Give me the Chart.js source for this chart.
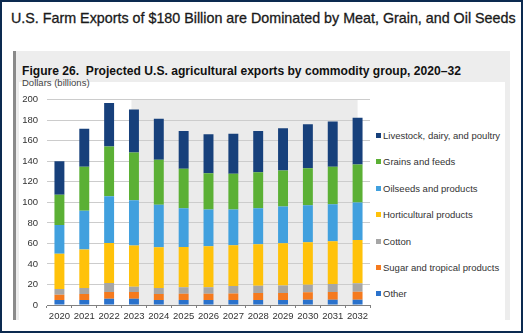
<!DOCTYPE html>
<html>
<head>
<meta charset="utf-8">
<script src="https://cdn.jsdelivr.net/npm/chart.js@4.4.1/dist/chart.umd.min.js"></script>
<style>
  body { margin: 0; width: 523px; height: 333px; position: relative; background: #fff; font-family: 'Liberation Sans', Arial, sans-serif; overflow: hidden; }
  #frame { position: absolute; left: 0; top: 0; width: 523px; height: 333px; box-sizing: border-box; border: 2px solid #0c2a50; }
  #title { position: absolute; left: 11px; top: 10px; font-size: 14.3px; color: #1a1a1a; white-space: nowrap; -webkit-text-stroke: 0.3px #1a1a1a; }
  #panel { position: absolute; left: 13px; top: 51px; width: 494px; height: 269px; background: #ededed; border-left: 3px solid #8a8a8a; }
  #fig-title { position: absolute; left: 22px; top: 64px; font-size: 12.1px; font-weight: bold; color: #111; white-space: nowrap; }
  #plot-bg { position: absolute; left: 19px; top: 82px; width: 486px; height: 238px; background: #fff; }
  #units { position: absolute; left: 22px; top: 77px; font-size: 9.5px; color: #444; }
  #chart-box { position: absolute; left: 19px; top: 85px; width: 356px; height: 239px; }
  #legend { position: absolute; left: 376px; top: 130px; }
  .legend-item { height: 26.4px; font-size: 9.5px; color: #333; white-space: nowrap; position: relative; }
  .legend-item span { display: inline-block; width: 5px; height: 5px; margin-right: 2px; vertical-align: 1px; }
</style>
</head>
<body>
<div id="frame"></div>
<div id="title">U.S. Farm Exports of $180 Billion are Dominated by Meat, Grain, and Oil Seeds</div>
<div id="panel"></div>
<div id="plot-bg"></div>
<div id="fig-title">Figure 26.&nbsp; Projected U.S. agricultural exports by commodity group, 2020–32</div>
<div id="units">Dollars (billions)</div>
<div id="chart-box"><canvas id="exportsChart" width="356" height="239"></canvas></div>
<div id="legend"></div>
<script>
// years on the x axis
const years = ['2020', '2021', '2022', '2023', '2024', '2025', '2026', '2027', '2028', '2029', '2030', '2031', '2032'];

// values in billion dollars, bottom of the stack first
const other = [4.9, 4.9, 6.1, 6.1, 4.9, 4.9, 4.9, 4.9, 4.9, 4.9, 5.2, 5.2, 5.2];
const sugar = [5.1, 5.8, 6.6, 6.6, 5.8, 6.1, 6.1, 6.3, 6.8, 6.8, 7.1, 7.5, 7.8];
const cotton = [5.6, 5.9, 8.8, 5.2, 5.9, 6.2, 6.2, 7.3, 7.1, 7.4, 7.5, 7.8, 8.1];
const horticultural = [34.4, 37.4, 39.0, 40.0, 39.6, 39.4, 40.0, 39.6, 40.3, 41.0, 41.3, 41.5, 42.3];
const oilseeds = [28.0, 37.7, 45.5, 44.1, 41.4, 37.6, 35.8, 34.9, 35.1, 35.8, 36.1, 36.1, 36.4];
const grains = [29.3, 42.9, 48.4, 46.6, 43.8, 38.5, 35.4, 34.8, 35.2, 35.1, 36.1, 36.5, 37.1];
const livestock = [32.8, 37.1, 42.3, 41.9, 40.0, 36.7, 38.0, 39.0, 40.0, 41.3, 42.9, 44.2, 45.5];

const seriesLabels = ['Other', 'Sugar and tropical products', 'Cotton', 'Horticultural products', 'Oilseeds and products', 'Grains and feeds', 'Livestock, dairy, and poultry'];
const seriesData = [other, sugar, cotton, horticultural, oilseeds, grains, livestock];
const seriesColors = ['#2a72cc', '#f57a1e', '#a6a6a6', '#ffc20a', '#41a0de', '#5bb035', '#17407b'];

const yTicks = [0, 20, 40, 60, 80, 100, 120, 140, 160, 180, 200];

// grey band behind the projection years
const projectionShade = {
  id: 'projectionShade',
  beforeDraw(chart) {
    const ctx = chart.ctx;
    const x = chart.scales.x;
    const area = chart.chartArea;
    const left = x.getPixelForValue(2.9);
    const right = x.getPixelForValue(12);
    ctx.save();
    ctx.fillStyle = '#ebebeb';
    ctx.fillRect(left, area.top, right - left, area.bottom - area.top);
    ctx.restore();
  },
};

const datasets = seriesLabels.map((label, i) => ({
  label: label,
  data: seriesData[i],
  backgroundColor: seriesColors[i],
  borderWidth: 0,
  barPercentage: 0.4,
  categoryPercentage: 1,
}));

const ctx = document.getElementById('exportsChart').getContext('2d');
window.exportsChart = new Chart(ctx, {
  type: 'bar',
  data: {
    labels: years,
    datasets: datasets,
  },
  options: {
    responsive: false,
    animation: false,
    devicePixelRatio: 1,
    layout: {
      padding: { top: 4, right: 5, left: 0, bottom: 0 },
    },
    plugins: {
      legend: { display: false },
      tooltip: { enabled: false },
    },
    scales: {
      x: {
        stacked: true,
        grid: { display: true, drawOnChartArea: false, drawTicks: true, tickLength: 3, color: '#808080', offset: true },
        border: { display: true, color: '#808080', width: 1 },
        ticks: { color: '#333', padding: 3, maxRotation: 0, autoSkip: false, font: { family: "'Liberation Sans', Arial", size: 9.5 } },
        afterFit(scale) {
          scale.height = 19;
        },
      },
      y: {
        stacked: true,
        min: 0,
        max: 200,
        afterBuildTicks(scale) {
          scale.ticks = yTicks.map((v) => ({ value: v }));
        },
        grid: { color: '#cccccc', drawTicks: false },
        border: { display: false },
        ticks: { color: '#333', padding: 9, font: { family: "'Liberation Sans', Arial", size: 9.5 } },
        afterFit(scale) {
          scale.width = 28;
        },
      },
    },
  },
  plugins: [projectionShade],
});

// legend on the right, top entry is the top of the stack
const legend = document.getElementById('legend');
for (let i = seriesLabels.length - 1; i >= 0; i--) {
  const item = document.createElement('div');
  item.className = 'legend-item';
  item.innerHTML = '<span style="background:' + seriesColors[i] + '"></span>' + seriesLabels[i];
  legend.appendChild(item);
}
</script>
</body>
</html>
